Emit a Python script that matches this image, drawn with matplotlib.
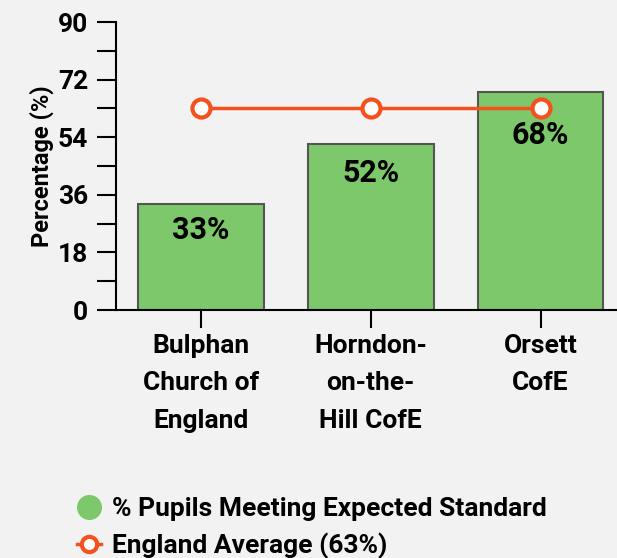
import matplotlib.pyplot as plt
from matplotlib.lines import Line2D
from matplotlib.ticker import MultipleLocator

plt.rcParams['font.family'] = ['Roboto', 'DejaVu Sans']
plt.rcParams['font.weight'] = 'bold'

schools = ['Bulphan\nChurch of\nEngland', 'Horndon-\non-the-\nHill CofE', 'Orsett\nCofE']
pupils_pct = [33, 52, 68]
england_avg = [63, 63, 63]

# how far below the bar top each value label sits (px), the last one dodges the line marker
label_drop = [11, 14, 28]

bg = '#f2f2f2'
fig = plt.figure(figsize=(6.17, 5.58), dpi=100, facecolor=bg)
ax = fig.add_axes([116 / 617, 248 / 558, 501 / 617, 288 / 558], facecolor=bg)

x = range(len(schools))
ax.bar(x, pupils_pct, width=0.74, color='#7dc86a', edgecolor='#555555', linewidth=1.5, zorder=2)
ax.plot(x, england_avg, color='#f4511e', linewidth=2.5, marker='o', markersize=13,
        markerfacecolor='white', markeredgecolor='#f4511e', markeredgewidth=3, zorder=3)

for xi, v, d in zip(x, pupils_pct, label_drop):
    ax.annotate(f'{v}%', (xi, v), xytext=(0, -d * 0.72), textcoords='offset points',
                ha='center', va='top', fontsize=22, fontweight='bold', zorder=4)

ax.set_xlim(-0.5, 2.45)
ax.set_ylim(0, 90)
ax.yaxis.set_major_locator(MultipleLocator(18))
ax.yaxis.set_minor_locator(MultipleLocator(9))
ax.tick_params(axis='y', which='both', length=14, width=1.5, labelsize=19, pad=6)
ax.tick_params(axis='x', length=13, width=1.5, labelsize=19, pad=4)
ax.set_xticks(list(x))
ax.set_xticklabels(schools, fontweight='bold', linespacing=1.72)
for lab in ax.get_yticklabels():
    lab.set_fontweight('bold')
ax.set_ylabel('Percentage (%)', fontsize=17, fontweight='bold', labelpad=3)

for side in ['top', 'right']:
    ax.spines[side].set_visible(False)
for side in ['left', 'bottom']:
    ax.spines[side].set_linewidth(1.5)

handles = [
    Line2D([], [], linestyle='none', marker='o', markersize=17, markerfacecolor='#7dc86a',
           markeredgecolor='#7dc86a'),
    Line2D([], [], color='#f4511e', linewidth=2.5, marker='o', markersize=11,
           markerfacecolor='white', markeredgecolor='#f4511e', markeredgewidth=3),
]
fig.legend(handles, ['% Pupils Meeting Expected Standard', 'England Average (63%)'],
           loc='upper left', bbox_to_anchor=(77 / 617, 1 - 497 / 558), frameon=False,
           prop={'size': 19, 'weight': 'bold'}, handlelength=0.9, handletextpad=0.42,
           labelspacing=0.45, borderaxespad=0, borderpad=0)

fig.savefig('out.png', dpi=100, facecolor=bg)
